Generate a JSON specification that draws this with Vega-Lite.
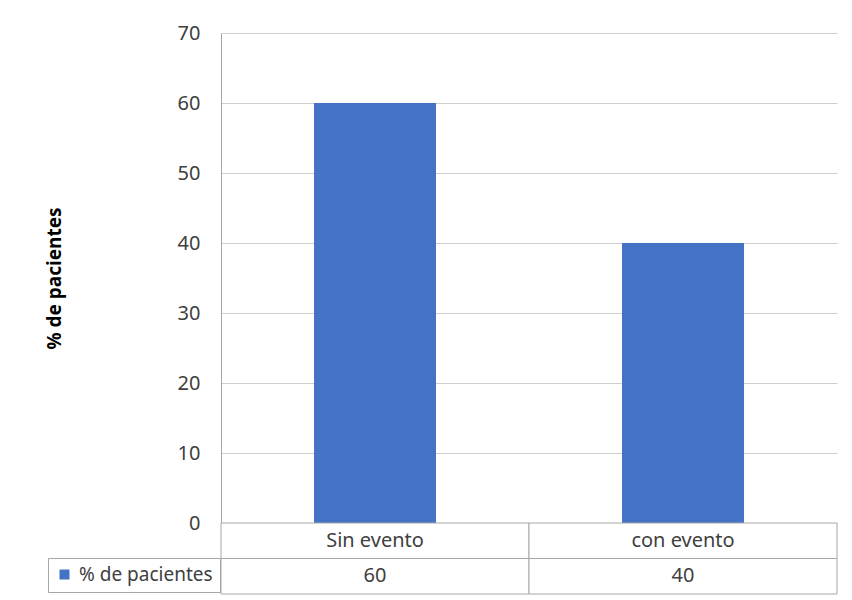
{
  "$schema": "https://vega.github.io/schema/vega-lite/v6.json",
  "background": "white",
  "padding": {"left": 45, "top": 23, "right": 10, "bottom": 5},
  "bounds": "flush",
  "spacing": 0,
  "config": {"font": "Noto Sans", "view": {"stroke": null}},
  "resolve": {"legend": {"color": "independent"}},
  "data": {"values": [
    {"categoria": "Sin evento", "valor": 60},
    {"categoria": "con evento", "valor": 40}
  ]},
  "vconcat": [
    {
      "width": 616,
      "height": 490,
      "mark": {"type": "bar"},
      "encoding": {
        "x": {"field": "categoria", "type": "nominal", "sort": null,
              "scale": {"paddingInner": 0.604, "paddingOuter": 0.302}, "axis": null},
        "y": {"field": "valor", "type": "quantitative",
              "scale": {"domain": [0, 70], "nice": false},
              "axis": {"values": [0, 10, 20, 30, 40, 50, 60, 70], "title": "% de pacientes",
                       "titleFontWeight": "bold", "titleFontSize": 19, "titleColor": "#000000",
                       "titlePadding": 113, "labelFontSize": 20, "labelColor": "#404040",
                       "labelPadding": 21, "ticks": false, "tickSize": 0,
                       "domainColor": "#a6a6a6", "gridColor": "#cfcfcf"}},
        "color": {"datum": "% de pacientes", "type": "nominal",
                  "scale": {"range": ["#4472c4"]},
                  "legend": {"orient": "none", "legendX": -173, "legendY": 525, "title": null,
                             "strokeColor": "#a6a6a6", "padding": 7, "symbolType": "square",
                             "symbolSize": 100, "symbolStrokeWidth": 0, "labelFontSize": 19,
                             "labelColor": "#404040", "labelOffset": 5}}
      }
    },
    {
      "width": 616,
      "height": 71,
      "encoding": {
        "x": {"field": "categoria", "type": "nominal", "sort": null,
              "scale": {"paddingInner": 0, "paddingOuter": 0}, "axis": null}
      },
      "layer": [
        {"mark": {"type": "rect", "fill": "white", "stroke": "#a6a6a6", "strokeWidth": 1},
         "encoding": {"y": {"datum": "cat", "type": "nominal",
                            "scale": {"domain": ["cat", "val"], "paddingInner": 0, "paddingOuter": 0}, "axis": null}}},
        {"mark": {"type": "rect", "fill": "white", "stroke": "#a6a6a6", "strokeWidth": 1},
         "encoding": {"y": {"datum": "val", "type": "nominal"}}},
        {"mark": {"type": "text", "fontSize": 20, "color": "#404040"},
         "encoding": {"y": {"datum": "cat", "type": "nominal"}, "text": {"field": "categoria"}}},
        {"mark": {"type": "text", "fontSize": 20, "color": "#404040"},
         "encoding": {"y": {"datum": "val", "type": "nominal"}, "text": {"field": "valor"}}}
      ]
    }
  ]
}
